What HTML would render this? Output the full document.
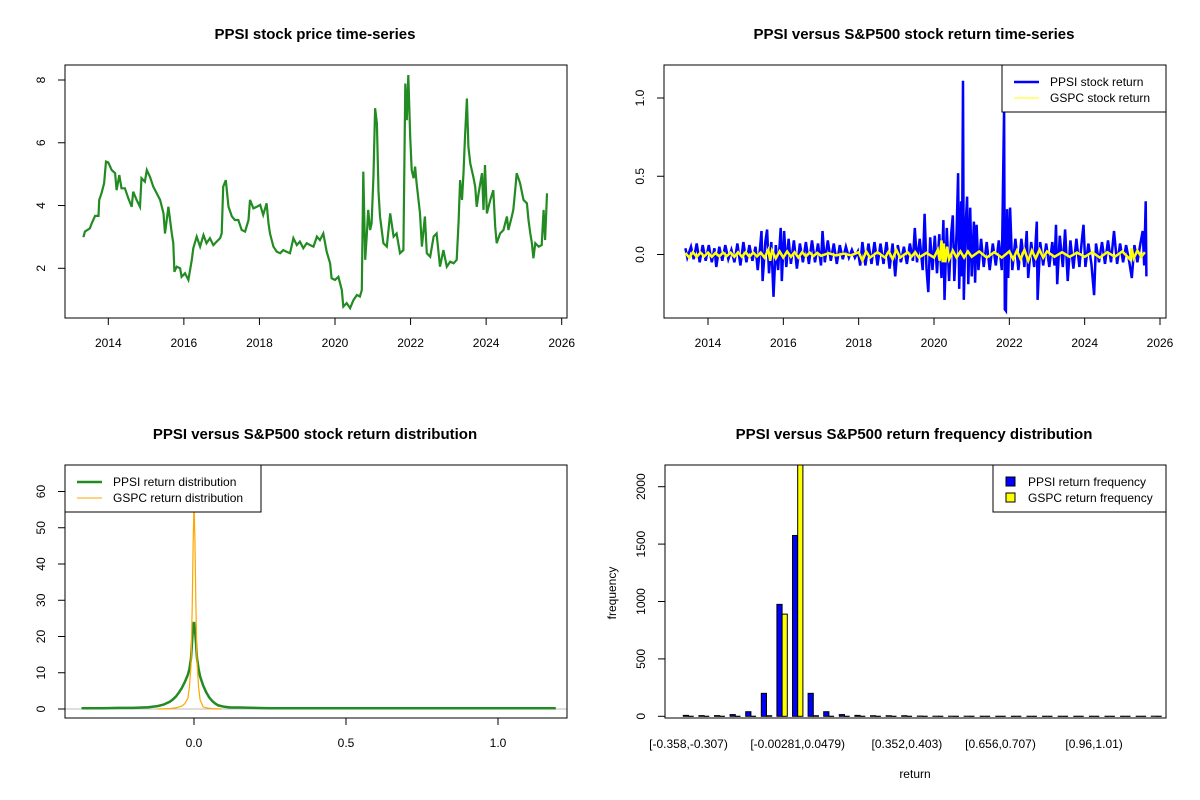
<!DOCTYPE html>
<html><head><meta charset="utf-8">
<style>
html,body{margin:0;padding:0;background:#fff;}
svg{display:block;font-family:"Liberation Sans",Arial,sans-serif;}
.tk{font-size:12px;fill:#000;}
.ttl{font-size:15px;font-weight:bold;fill:#000;}
</style></head>
<body>
<svg id="chart" width="1200" height="800" viewBox="0 0 1200 800" xmlns="http://www.w3.org/2000/svg">
<rect x="0" y="0" width="1200" height="800" fill="#fff"/>
<text class="ttl" x="315" y="39" text-anchor="middle">PPSI stock price time-series</text>
<text class="ttl" x="914" y="39" text-anchor="middle">PPSI versus S&amp;P500 stock return time-series</text>
<text class="ttl" x="315" y="439" text-anchor="middle">PPSI versus S&amp;P500 stock return distribution</text>
<text class="ttl" x="914" y="439" text-anchor="middle">PPSI versus S&amp;P500 return frequency distribution</text>
<g id="p1"></g>
<g id="p2"></g>
<g id="p3"></g>
<g id="p4"></g>
</svg>
<script>
// ---------- Panel 1 data: PPSI price ----------
const priceYears = [2013.34,2013.38,2013.51,2013.56,2013.65,2013.74,2013.76,2013.82,2013.89,2013.94,2014.00,2014.09,2014.18,2014.22,2014.29,2014.35,2014.44,2014.53,2014.62,2014.66,2014.75,2014.84,2014.88,2014.97,2015.02,2015.10,2015.19,2015.28,2015.37,2015.46,2015.50,2015.59,2015.68,2015.72,2015.75,2015.81,2015.90,2015.94,2016.03,2016.12,2016.21,2016.25,2016.34,2016.43,2016.52,2016.60,2016.69,2016.78,2016.87,2016.96,2017.00,2017.04,2017.11,2017.18,2017.27,2017.35,2017.44,2017.53,2017.62,2017.71,2017.75,2017.84,2017.93,2018.02,2018.10,2018.19,2018.24,2018.28,2018.37,2018.46,2018.55,2018.63,2018.72,2018.81,2018.90,2018.99,2019.07,2019.16,2019.25,2019.34,2019.43,2019.52,2019.60,2019.69,2019.78,2019.87,2019.91,2020.00,2020.09,2020.18,2020.22,2020.31,2020.40,2020.49,2020.58,2020.66,2020.71,2020.75,2020.80,2020.84,2020.88,2020.93,2020.97,2021.02,2021.06,2021.11,2021.15,2021.19,2021.28,2021.37,2021.46,2021.55,2021.63,2021.72,2021.81,2021.86,2021.90,2021.94,2021.99,2022.03,2022.08,2022.12,2022.16,2022.25,2022.30,2022.38,2022.43,2022.52,2022.61,2022.69,2022.78,2022.87,2022.96,2023.05,2023.14,2023.22,2023.27,2023.31,2023.36,2023.40,2023.44,2023.49,2023.53,2023.58,2023.66,2023.71,2023.75,2023.80,2023.89,2023.93,2023.97,2024.02,2024.11,2024.19,2024.24,2024.28,2024.37,2024.46,2024.55,2024.59,2024.68,2024.72,2024.77,2024.81,2024.90,2024.99,2025.08,2025.12,2025.17,2025.21,2025.25,2025.30,2025.39,2025.47,2025.52,2025.56,2025.61];
const priceValues = [2.99,3.17,3.27,3.43,3.67,3.67,4.18,4.39,4.71,5.40,5.37,5.13,5.03,4.49,4.97,4.55,4.55,4.23,3.96,4.44,4.18,3.96,4.87,4.76,5.13,4.92,4.60,4.39,4.18,3.75,3.11,3.96,3.11,2.80,1.89,2.05,2.00,1.73,1.84,1.63,2.27,2.64,3.01,2.69,3.06,2.80,2.96,2.74,2.85,2.96,3.11,4.60,4.81,3.96,3.65,3.54,3.54,3.22,3.17,3.54,4.18,3.91,3.96,4.02,3.70,4.07,3.43,3.11,2.69,2.53,2.48,2.58,2.53,2.48,2.96,2.74,2.85,2.64,2.80,2.74,2.69,3.01,2.90,3.11,2.53,2.16,1.68,1.63,1.73,1.31,0.78,0.89,0.73,0.99,1.15,1.10,1.31,5.08,2.27,3.01,3.86,3.22,3.43,4.97,7.10,6.62,4.44,3.65,2.80,2.69,3.75,3.01,3.11,2.48,2.58,7.89,6.72,8.16,6.19,5.13,4.87,5.24,4.71,3.75,2.69,3.65,2.48,2.37,3.01,3.11,2.05,2.58,2.05,2.21,2.16,2.27,3.49,4.81,4.18,5.03,6.19,7.41,5.87,5.34,4.92,4.60,3.96,4.39,5.03,3.86,5.29,3.75,4.18,4.49,3.33,2.80,3.11,3.22,3.65,3.22,3.65,3.86,4.49,5.03,4.71,4.18,4.07,3.54,3.11,2.80,2.32,2.80,2.69,2.74,3.86,2.90,4.39];
const yearTicks = [2014,2016,2018,2020,2022,2024,2026];
const priceTicks = [2,4,6,8];

// ---------- Panel 2 data: returns ----------
const retYears = [2013.40,2013.45,2013.55,2013.62,2013.70,2013.78,2013.86,2013.94,2014.02,2014.10,2014.17,2014.22,2014.30,2014.38,2014.46,2014.54,2014.62,2014.70,2014.78,2014.86,2014.94,2015.02,2015.10,2015.18,2015.26,2015.32,2015.38,2015.42,2015.45,2015.52,2015.57,2015.62,2015.68,2015.74,2015.80,2015.86,2015.93,2015.96,2016.02,2016.08,2016.14,2016.20,2016.28,2016.36,2016.44,2016.52,2016.60,2016.68,2016.76,2016.84,2016.92,2017.00,2017.04,2017.10,2017.18,2017.26,2017.34,2017.42,2017.50,2017.58,2017.66,2017.74,2017.82,2017.90,2017.98,2018.04,2018.10,2018.18,2018.26,2018.34,2018.42,2018.50,2018.58,2018.66,2018.74,2018.82,2018.90,2018.97,2019.04,2019.12,2019.20,2019.28,2019.36,2019.44,2019.49,2019.55,2019.62,2019.70,2019.75,2019.80,2019.85,2019.90,2019.96,2020.02,2020.08,2020.14,2020.20,2020.25,2020.28,2020.34,2020.40,2020.46,2020.50,2020.54,2020.60,2020.64,2020.67,2020.72,2020.74,2020.77,2020.79,2020.84,2020.88,2020.91,2020.96,2021.00,2021.06,2021.09,2021.13,2021.18,2021.25,2021.32,2021.40,2021.48,2021.56,2021.64,2021.72,2021.80,2021.86,2021.88,2021.91,2021.94,2021.97,2022.02,2022.08,2022.16,2022.24,2022.32,2022.40,2022.46,2022.50,2022.58,2022.66,2022.73,2022.75,2022.82,2022.90,2022.98,2023.06,2023.14,2023.20,2023.24,2023.27,2023.34,2023.42,2023.48,2023.55,2023.62,2023.70,2023.78,2023.86,2023.92,2023.97,2024.02,2024.10,2024.18,2024.25,2024.30,2024.38,2024.46,2024.54,2024.62,2024.70,2024.78,2024.86,2024.94,2025.02,2025.10,2025.18,2025.25,2025.32,2025.40,2025.48,2025.54,2025.58,2025.62,2025.64];
const ppsiReturns = [0.04,-0.02,0.05,-0.03,0.07,-0.05,0.06,-0.04,0.06,-0.05,0.04,-0.08,0.05,-0.04,0.06,-0.03,0.03,-0.05,0.07,-0.07,0.08,-0.05,0.06,-0.04,0.05,-0.10,0.04,0.15,-0.17,0.08,0.16,-0.12,0.08,-0.27,0.06,-0.10,0.17,-0.17,0.15,-0.08,0.10,-0.06,0.09,-0.09,0.07,-0.05,0.08,-0.06,0.09,-0.05,0.07,-0.07,0.15,-0.05,0.09,-0.04,0.07,-0.06,0.06,-0.03,0.05,-0.02,0.03,-0.02,0.02,-0.07,0.08,-0.07,0.07,-0.06,0.08,-0.07,0.07,-0.06,0.08,-0.09,0.07,-0.14,0.06,-0.05,0.05,-0.06,0.07,-0.04,0.17,-0.05,0.10,-0.10,0.26,-0.09,-0.24,0.11,-0.10,0.12,-0.12,0.13,-0.15,0.22,-0.29,0.17,-0.17,0.14,0.25,-0.17,0.14,0.52,-0.22,0.34,-0.14,1.11,-0.29,0.18,0.37,-0.19,0.30,-0.14,0.21,-0.18,0.19,-0.10,0.10,-0.08,0.08,-0.10,0.07,-0.07,0.09,-0.10,0.93,-0.35,-0.36,0.29,-0.15,0.30,-0.10,0.10,-0.10,0.10,-0.08,0.15,-0.15,0.08,-0.08,0.21,-0.29,0.08,-0.07,0.07,-0.08,0.08,-0.07,0.19,-0.19,0.12,-0.08,0.16,-0.17,0.09,-0.09,0.10,-0.08,0.08,0.19,-0.08,0.07,-0.06,-0.26,0.07,-0.05,0.08,-0.06,0.09,-0.05,0.15,-0.06,0.07,-0.05,0.06,-0.04,-0.15,0.06,-0.05,0.07,0.15,-0.07,0.34,-0.14];
const gspcYears = [2013.40,2013.50,2013.60,2013.70,2013.80,2013.90,2014.00,2014.10,2014.20,2014.30,2014.40,2014.50,2014.60,2014.70,2014.80,2014.90,2015.00,2015.10,2015.20,2015.30,2015.40,2015.50,2015.60,2015.65,2015.70,2015.80,2015.90,2016.00,2016.10,2016.20,2016.30,2016.40,2016.50,2016.60,2016.70,2016.80,2016.90,2017.00,2017.20,2017.40,2017.60,2017.80,2018.00,2018.10,2018.20,2018.30,2018.50,2018.70,2018.80,2018.90,2019.00,2019.10,2019.30,2019.40,2019.50,2019.60,2019.80,2020.00,2020.10,2020.15,2020.20,2020.23,2020.26,2020.30,2020.35,2020.40,2020.50,2020.60,2020.70,2020.80,2020.90,2021.00,2021.20,2021.40,2021.60,2021.80,2022.00,2022.10,2022.20,2022.30,2022.40,2022.50,2022.60,2022.70,2022.80,2022.90,2023.00,2023.20,2023.40,2023.60,2023.80,2024.00,2024.20,2024.40,2024.60,2024.80,2025.00,2025.20,2025.25,2025.30,2025.40,2025.50,2025.60];
const gspcReturns = [0.01,-0.02,0.015,-0.015,0.012,-0.012,0.012,-0.015,0.01,-0.012,0.012,-0.01,0.012,-0.015,0.015,-0.015,0.015,-0.015,0.012,-0.012,0.012,-0.02,0.03,-0.04,0.025,-0.025,0.02,-0.02,0.02,-0.015,0.015,-0.02,0.015,-0.012,0.012,-0.01,0.01,-0.008,0.008,-0.006,0.006,-0.005,0.015,-0.04,0.02,-0.02,0.015,-0.02,0.02,-0.03,0.03,-0.02,0.015,-0.015,0.015,-0.02,0.01,-0.02,0.03,-0.04,0.09,-0.05,0.07,-0.05,0.05,-0.03,0.025,-0.02,0.02,-0.02,0.02,-0.015,0.02,-0.02,0.015,-0.02,0.02,-0.03,0.025,-0.03,0.03,-0.04,0.025,-0.025,0.03,-0.02,0.02,-0.015,0.015,-0.015,0.012,-0.015,0.015,-0.02,0.015,-0.015,0.02,-0.03,0.04,-0.025,0.025,-0.015,0.015];
const returnTicks = [0.0,0.5,1.0];

// ---------- Panel 3 data: densities ----------
const ppsiDensX = [-0.37,-0.3,-0.25,-0.2,-0.15,-0.12,-0.1,-0.08,-0.07,-0.06,-0.05,-0.04,-0.03,-0.02,-0.015,-0.01,-0.006,-0.003,0,0.003,0.006,0.01,0.015,0.02,0.03,0.04,0.05,0.06,0.07,0.08,0.1,0.12,0.15,0.2,0.25,0.3,0.5,0.8,1.0,1.19];
const ppsiDensY = [0.2,0.2,0.3,0.3,0.5,0.8,1.2,2.0,2.6,3.4,4.5,5.8,7.5,9.5,11,14,19,23,24,22,19,14,11,9,6.5,4.6,3.2,2.2,1.5,1.0,0.6,0.4,0.4,0.3,0.2,0.2,0.2,0.2,0.2,0.2];
const gspcDensX = [-0.12,-0.08,-0.06,-0.04,-0.03,-0.02,-0.015,-0.01,-0.006,-0.003,0,0.003,0.006,0.01,0.015,0.02,0.03,0.04,0.06,0.09];
const gspcDensY = [0,0.1,0.3,0.8,1.5,3,6,12,28,45,57,47,30,13,6,2.5,0.6,0.3,0.1,0];
const densXTicks = [0.0,0.5,1.0];
const densYTicks = [0,10,20,30,40,50,60];

// ---------- Panel 4 data: histogram ----------
const binLabels = ["[-0.358,-0.307)","","","","","","","[-0.00281,0.0479)","","","","","","","[0.352,0.403)","","","","","","[0.656,0.707)","","","","","","[0.96,1.01)","","","",""];
const ppsiFreq = [8,6,6,15,40,200,975,1575,200,40,15,8,5,5,5,2,1,1,1,0,0,0,0,0,0,0,0,0,0,0,1];
const gspcFreq = [0,0,0,0,0,5,890,2800,5,0,0,0,0,0,0,0,0,0,0,0,0,0,0,0,0,0,0,0,0,0,0];
const freqTicks = [0,500,1000,1500,2000];

const NS = "http://www.w3.org/2000/svg";
function mk(parent, tag, attrs){const e=document.createElementNS(NS,tag);for(const k in attrs)e.setAttribute(k,attrs[k]);parent.appendChild(e);return e;}
function lin(d0,d1,r0,r1){return v=>r0+(v-d0)*(r1-r0)/(d1-d0);}

function frame(g,L,T,R,B,name){
  const r=mk(g,'rect',{x:L,y:T,width:R-L,height:B-T,fill:'none',stroke:'#000','stroke-width':1});
  
  
}
function yAxis(g,ticks,sy,L,name,fmt){
  ticks.forEach(t=>{
    const y=sy(t);
    const l=mk(g,'line',{x1:L-7,x2:L,y1:y,y2:y,stroke:'#000'});
    
    
    const tx=mk(g,'text',{class:'tk',x:L-20,y:y,'text-anchor':'middle',transform:`rotate(-90 ${L-20} ${y})`});
    tx.textContent=fmt?fmt(t):t;
    
    
  });
}
function xAxis(g,ticks,sx,B,name,fmt){
  ticks.forEach(t=>{
    const x=sx(t);
    const l=mk(g,'line',{x1:x,x2:x,y1:B,y2:B+7,stroke:'#000'});
    
    
    const tx=mk(g,'text',{class:'tk',x:x,y:B+29,'text-anchor':'middle'});
    tx.textContent=fmt?fmt(t):t;
    
    
  });
}
function poly(g,xs,ys,sx,sy,color,w,name){
  const pts=xs.map((x,i)=>sx(x).toFixed(1)+','+sy(ys[i]).toFixed(1)).join(' ');
  const p=mk(g,'polyline',{points:pts,fill:'none',stroke:color,'stroke-width':w,'stroke-linejoin':'miter'});
  
  
  return p;
}

// Panel 1
(function(){
  const g=document.getElementById('p1');
  const L=65,T=65,R=567,B=318;
  const sx=lin(2014,2026,108.3,561.7), sy=lin(2,8,268.3,80);
  poly(g,priceYears,priceValues,sx,sy,'#228B22',2.2,'ppsi-price-line');
  frame(g,L,T,R,B,'price');
  yAxis(g,priceTicks,sy,L,'price');
  xAxis(g,yearTicks,sx,B,'price');
})();

// Panel 2
(function(){
  const g=document.getElementById('p2');
  const L=664,T=65,R=1166,B=318;
  const sx=lin(2014,2026,708,1160), sy=lin(0,1,254.5,98);
  poly(g,retYears,ppsiReturns,sx,sy,'#0000FF',2.5,'ppsi-return-line');
  poly(g,gspcYears,gspcReturns,sx,sy,'#FFFF00',2.5,'gspc-return-line');
  frame(g,L,T,R,B,'return');
  yAxis(g,returnTicks,sy,L,'return',t=>t.toFixed(1));
  xAxis(g,yearTicks,sx,B,'return');
  const lg=mk(g,'g',{});
  
  
  mk(lg,'rect',{x:1002,y:65,width:164,height:47,fill:'#fff',stroke:'#000'});
  mk(lg,'line',{x1:1014,x2:1039,y1:82,y2:82,stroke:'#0000FF','stroke-width':2.5});
  mk(lg,'line',{x1:1014,x2:1039,y1:98,y2:98,stroke:'#FFFF00','stroke-width':1});
  const t1=mk(lg,'text',{class:'tk',x:1050,y:86});t1.textContent='PPSI stock return';
  
  
  const t2=mk(lg,'text',{class:'tk',x:1050,y:102});t2.textContent='GSPC stock return';
  
  
})();

// Panel 3
(function(){
  const g=document.getElementById('p3');
  const L=65,T=465,R=567,B=718;
  const sx=lin(0,1,194,498), sy=lin(0,60,709,491.5);
  const z=mk(g,'line',{x1:L,x2:R,y1:sy(0),y2:sy(0),stroke:'#BEBEBE'});
  
  
  poly(g,ppsiDensX,ppsiDensY,sx,sy,'#228B22',2.5,'ppsi-density-line');
  poly(g,gspcDensX,gspcDensY,sx,sy,'#FFA500',1.2,'gspc-density-line');
  frame(g,L,T,R,B,'distribution');
  yAxis(g,densYTicks,sy,L,'distribution');
  xAxis(g,densXTicks,sx,B,'distribution',t=>t.toFixed(1));
  const lg=mk(g,'g',{});
  
  
  mk(lg,'rect',{x:65,y:465,width:196,height:47,fill:'#fff',stroke:'#000'});
  mk(lg,'line',{x1:77,x2:102,y1:482,y2:482,stroke:'#228B22','stroke-width':2.5});
  mk(lg,'line',{x1:77,x2:102,y1:498,y2:498,stroke:'#FFA500','stroke-width':1});
  const t1=mk(lg,'text',{class:'tk',x:113,y:486});t1.textContent='PPSI return distribution';
  
  
  const t2=mk(lg,'text',{class:'tk',x:113,y:502});t2.textContent='GSPC return distribution';
  
  
})();

// Panel 4
(function(){
  const g=document.getElementById('p4');
  const L=665,T=465,R=1166,B=718;
  const sy=lin(0,2000,716.3,486.7);
  const pitch=15.6, bw=5.2, x0=683.3;
  const clip=mk(g,'clipPath',{id:'c4'});
  mk(clip,'rect',{x:L,y:T,width:R-L,height:B-T});
  const bars=mk(g,'g',{'clip-path':'url(#c4)'});
  function bar(x,v,fill,name){
    let el;
    if(v===0){
      el=mk(bars,'line',{x1:x,x2:x+bw,y1:sy(0),y2:sy(0),stroke:'#000','stroke-width':1.2});
    } else {
      el=mk(bars,'rect',{x:x,y:sy(v),width:bw,height:sy(0)-sy(v),fill:fill,stroke:'#000','stroke-width':1});
    }
    
    
  }
  ppsiFreq.forEach((v,i)=>{
    const x=x0+i*pitch;
    bar(x,v,'#0000FF','bar-ppsi');
    bar(x+bw,gspcFreq[i],'#FFFF00','bar-gspc');
    if(binLabels[i]){
      const t=mk(g,'text',{class:'tk',x:x+bw,y:748,'text-anchor':'middle'});
      t.textContent=binLabels[i];
      
      
    }
  });
  frame(g,L,T,R,B,'frequency');
  yAxis(g,freqTicks,sy,L,'frequency');
  const yl=mk(g,'text',{class:'tk',x:616,y:593,'text-anchor':'middle',transform:'rotate(-90 616 593)'});
  yl.textContent='frequency';
  
  
  const xl=mk(g,'text',{class:'tk',x:915,y:778,'text-anchor':'middle'});
  xl.textContent='return';
  
  
  const lg=mk(g,'g',{});
  
  
  mk(lg,'rect',{x:993,y:465,width:173,height:47,fill:'#fff',stroke:'#000'});
  mk(lg,'rect',{x:1006,y:477,width:9,height:9,fill:'#0000FF',stroke:'#000'});
  mk(lg,'rect',{x:1006,y:493,width:9,height:9,fill:'#FFFF00',stroke:'#000'});
  const t1=mk(lg,'text',{class:'tk',x:1028,y:486});t1.textContent='PPSI return frequency';
  
  
  const t2=mk(lg,'text',{class:'tk',x:1028,y:502});t2.textContent='GSPC return frequency';
  
  
})();
</script>
</body></html>
